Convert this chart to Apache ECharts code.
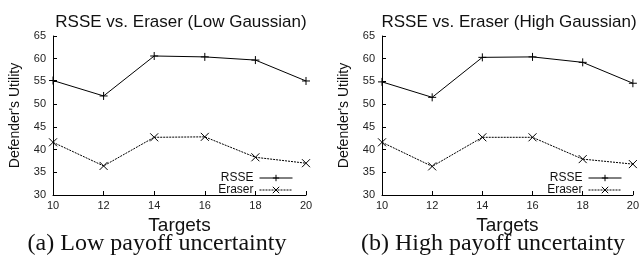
<!DOCTYPE html>
<html lang="en">
<head>
    <meta charset="UTF-8">
    <title>RSSE vs. Eraser</title>
    <script type="text/javascript" src="https://cdn.jsdelivr.net/npm/echarts@6/dist/echarts.min.js"></script>
</head>
<body style="margin:0">
<div id="main" style="height: 257px;width: 642px;"></div>
<script type="text/javascript">
    // targets on x axis
    var targets = [10, 12, 14, 16, 18, 20];
    // low payoff uncertainty
    var rsseLow = [55.2, 51.8, 60.6, 60.4, 59.7, 55.1];
    var eraserLow = [41.6, 36.4, 42.7, 42.8, 38.3, 37.0];
    // high payoff uncertainty
    var rsseHigh = [54.9, 51.5, 60.3, 60.4, 59.2, 54.6];
    var eraserHigh = [41.6, 36.3, 42.7, 42.7, 37.9, 36.8];

    var plus = 'path://M0,5L10,5M5,0L5,10';
    var cross = 'path://M0,0L10,10M10,0L0,10';

    function pairs(xs, ys) {
        return xs.map(function (x, i) { return [x, ys[i]]; });
    }

    function xAxis(idx) {
        return {
            type: 'value', gridIndex: idx, min: 10, max: 20, interval: 2,
            name: 'Targets', nameLocation: 'middle', nameGap: 13,
            nameTextStyle: {fontSize: 19, color: '#111', fontFamily: 'Liberation Sans'},
            axisLine: {show: true, lineStyle: {color: '#000', width: 1}},
            axisTick: {show: true, inside: true, length: 4, lineStyle: {color: '#000'}},
            axisLabel: {fontSize: 11, color: '#222', margin: 5, fontFamily: 'Liberation Sans'},
            splitLine: {show: false}
        };
    }

    function yAxis(idx) {
        return {
            type: 'value', gridIndex: idx, min: 30, max: 65, interval: 5,
            name: "Defender's Utility", nameLocation: 'middle', nameGap: 31,
            nameTextStyle: {fontSize: 14, color: '#111', fontFamily: 'Liberation Sans'},
            axisLine: {show: true, lineStyle: {color: '#000', width: 1}},
            axisTick: {show: true, inside: true, length: 4, lineStyle: {color: '#000'}},
            axisLabel: {fontSize: 11, color: '#222', margin: 7, fontFamily: 'Liberation Sans'},
            splitLine: {show: false}
        };
    }

    function line(name, idx, data, sym, dotted) {
        return {
            name: name, type: 'line', xAxisIndex: idx, yAxisIndex: idx,
            data: data, symbol: sym, symbolSize: 8, showAllSymbol: true,
            lineStyle: {color: '#000', width: 1, type: dotted ? [2, 1] : 'solid'},
            itemStyle: {color: '#000', borderColor: '#000', borderWidth: 1},
            animation: false
        };
    }

    function legend(right) {
        return {
            orient: 'vertical', right: right, top: 172, align: 'right', padding: 0,
            itemWidth: 33, itemHeight: 8, itemGap: 0,
            itemStyle: {borderWidth: 1},
            lineStyle: {width: 1},
            textStyle: {fontSize: 12, lineHeight: 12, color: '#111', fontFamily: 'Liberation Sans', padding: [0, 1, 0, 0]},
            data: ['RSSE', 'Eraser'], selectedMode: false
        };
    }

    var myChart = echarts.init(document.getElementById('main'));
    var option = {
        title: [
            {text: 'RSSE vs. Eraser (Low Gaussian)', left: 176, top: 9, textAlign: 'center',
                textStyle: {fontSize: 17, fontWeight: 'normal', color: '#111', fontFamily: 'Liberation Sans'}},
            {text: 'RSSE vs. Eraser (High Gaussian)', left: 504, top: 9, textAlign: 'center',
                textStyle: {fontSize: 17, fontWeight: 'normal', color: '#111', fontFamily: 'Liberation Sans'}},
            {text: '(a) Low payoff uncertainty', left: 152, top: 227, textAlign: 'center',
                textStyle: {fontSize: 24, fontWeight: 'normal', color: '#111', fontFamily: 'Liberation Serif'}},
            {text: '(b) High payoff uncertainty', left: 488, top: 227, textAlign: 'center',
                textStyle: {fontSize: 24, fontWeight: 'normal', color: '#111', fontFamily: 'Liberation Serif'}}
        ],
        grid: [
            {left: 53, right: 336, top: 36, bottom: 62},
            {left: 382, right: 8, top: 36, bottom: 62}
        ],
        legend: [legend(349), legend(20)],
        xAxis: [xAxis(0), xAxis(1)],
        yAxis: [yAxis(0), yAxis(1)],
        series: [
            line('RSSE', 0, pairs(targets, rsseLow), plus, false),
            line('Eraser', 0, pairs(targets, eraserLow), cross, true),
            line('RSSE', 1, pairs(targets, rsseHigh), plus, false),
            line('Eraser', 1, pairs(targets, eraserHigh), cross, true)
        ]
    };
    option && myChart.setOption(option);
</script>
</body>
</html>
